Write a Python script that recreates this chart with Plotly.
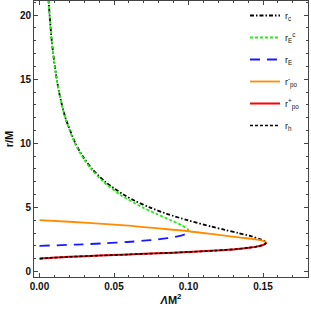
import plotly.graph_objects as go

# Data (Lambda*M^2, r/M)
lam_c = [0.0056, 0.0068, 0.0082, 0.0103, 0.0131, 0.0174, 0.0241, 0.0289, 0.0353, 0.0441,
         0.0563, 0.0643, 0.0739, 0.0854, 0.0993, 0.1155, 0.1244, 0.1333, 0.1419, 0.1485, 0.1515, 0.1522]
r_c = [22, 20, 18, 16, 14, 12, 10, 9, 8, 7,
       6, 5.5, 5, 4.5, 4, 3.5, 3.25, 3, 2.75, 2.5, 2.35, 2.25]

lam_Ec = [0.0059, 0.0067, 0.0082, 0.0102, 0.0131, 0.0172, 0.0238, 0.0285, 0.0346, 0.0429,
          0.0541, 0.0692, 0.0784, 0.0882, 0.0955, 0.0994, 0.1003]
r_Ec = [21.5, 20, 18, 16, 14, 12, 10, 9, 8, 7, 6, 5, 4.5, 4, 3.6, 3.3, 3.15]

lam_E = [0.0, 0.025, 0.044, 0.059, 0.070, 0.079, 0.086, 0.091, 0.095, 0.0975, 0.0995, 0.1003]
r_E = [2.0, 2.1, 2.2, 2.3, 2.4, 2.5, 2.6, 2.7, 2.8, 2.9, 3.0, 3.07]

lam_pm = [0.0, 0.02, 0.04, 0.06, 0.08, 0.10, 0.12, 0.135, 0.145, 0.150, 0.1522]
r_pm = [4.0, 3.88, 3.74, 3.57, 3.36, 3.14, 2.86, 2.65, 2.50, 2.38, 2.27]

lam_pp = [0.0, 0.008, 0.02, 0.04, 0.06, 0.08, 0.10, 0.118, 0.133, 0.1407, 0.1455, 0.149, 0.1512, 0.1522]
r_pp = [1.0, 1.07, 1.14, 1.24, 1.33, 1.42, 1.52, 1.63, 1.76, 1.86, 1.94, 2.03, 2.13, 2.27]

lam_h = [0.1522, 0.1512, 0.1490, 0.1455, 0.1407, 0.1330, 0.1180, 0.1000, 0.0800, 0.0600, 0.0400, 0.0200, 0.0080, 0.0]
r_h = [2.25, 2.13, 2.03, 1.94, 1.86, 1.76, 1.63, 1.52, 1.42, 1.33, 1.24, 1.14, 1.07, 1.0]

x_ticks = [0.0, 0.05, 0.10, 0.15]
x_tick_labels = ["0.00", "0.05", "0.10", "0.15"]
y_ticks = [0, 5, 10, 15, 20]

series = [
    ("r<sub>c</sub>", lam_c, r_c, "#000000", "4px,2px,1.5px,2px", 1.8),
    ("r<sub>E</sub><sup>c</sup>", lam_Ec, r_Ec, "#22ee11", "3px,2px", 1.8),
    ("r<sub>E</sub>", lam_E, r_E, "#1a1aff", "10px,7px", 1.8),
    ("r<sup>-</sup><sub>po</sub>", lam_pm, r_pm, "#ff8c00", "solid", 1.8),
    ("r<sup>+</sup><sub>po</sub>", lam_pp, r_pp, "#ff0000", "solid", 2.0),
    ("r<sub>h</sub>", lam_h, r_h, "#000000", "3px,2px", 1.6),
]

fig = go.Figure()
for i, (name, xs, ys, col, dash, w) in enumerate(series):
    fig.add_trace(go.Scatter(
        x=xs, y=ys, mode="lines", name=name,
        line=dict(color=col, width=w, dash=dash, shape="spline", smoothing=0.8),
        legendgroup=str(i), legendrank=i + 1,
    ))

axis_common = dict(
    showline=True, linecolor="#444", linewidth=1, mirror="ticks",
    ticks="inside", ticklen=4, tickcolor="#444", tickwidth=1,
    showgrid=False, zeroline=False, automargin=False,
    tickfont=dict(family="Liberation Sans", size=10, color="#111", weight="bold"),
)

fig.update_xaxes(
    range=[-0.0037, 0.1802], tickvals=x_ticks, ticktext=x_tick_labels,
    minor=dict(ticks="inside", ticklen=2, dtick=0.01, tick0=0, tickcolor="#444", showgrid=False),
    title=dict(text="<i>Λ</i>M<sup>2</sup>", font=dict(family="Liberation Sans", size=11, color="#111", weight="bold"), standoff=4),
    **axis_common,
)
fig.update_yaxes(
    range=[-0.43, 21.1], tickvals=y_ticks,
    minor=dict(ticks="inside", ticklen=2, dtick=1, tick0=0, tickcolor="#444", showgrid=False),
    title=dict(text="r/M", font=dict(family="Liberation Sans", size=11, color="#111", weight="bold"), standoff=4),
    **axis_common,
)

fig.update_layout(
    width=311, height=314,
    margin=dict(l=34, r=3, t=1, b=37, autoexpand=False),
    paper_bgcolor="white", plot_bgcolor="white",
    showlegend=True,
    legend=dict(
        x=0.77, y=1.0, xanchor="left", yanchor="top",
        bgcolor="rgba(0,0,0,0)", borderwidth=0,
        font=dict(family="Liberation Sans", size=9, color="#111"),
        traceorder="grouped", tracegroupgap=3, itemwidth=30,
    ),
)

fig.write_html("out.html", config={"displayModeBar": False},
               post_script="document.body.style.margin='0';")
